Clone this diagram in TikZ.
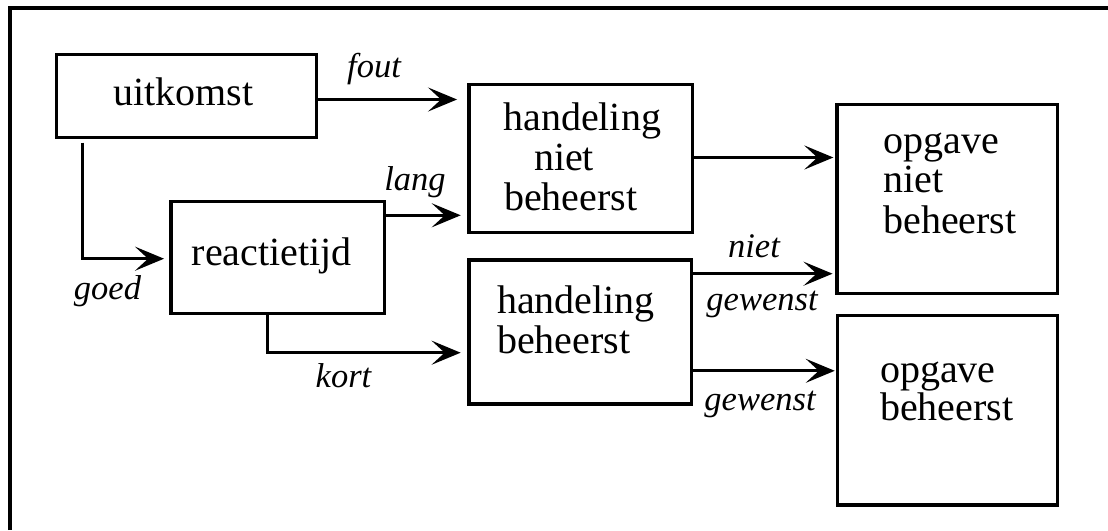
\documentclass[tikz,border=0pt]{standalone}
\usepackage{fontspec}
\setmainfont{Liberation Serif}
\usetikzlibrary{arrows.meta}
\begin{document}
\begin{tikzpicture}[x=1pt,y=-1pt,
  box/.style={draw, line width=3.2pt, rectangle, inner sep=0pt, outer sep=0pt},
  txt/.style={anchor=base west, inner sep=0pt, outer sep=0pt, font=\fontsize{40}{40}\selectfont},
  lab/.style={anchor=base, inner sep=0pt, outer sep=0pt, font=\fontsize{34.5}{34.5}\selectfont\itshape},
  conn/.style={line width=3.2pt, -{Stealth[length=29pt,width=24pt,inset=13pt]}},
  frame/.style={line width=3.2pt}
]
\useasboundingbox (0,0) rectangle (1108,530);
% frame (top and left edges)
\draw[frame] (10,530) -- (10,8) -- (1108,8);

% boxes
\node[box, minimum width=260pt, minimum height=83.4pt] (uit) at (186.5,96) {};
\node[box, minimum width=223.3pt, minimum height=148pt] (hnb) at (580.7,158.3) {};
\node[box, minimum width=213.3pt, minimum height=111.6pt] (rt) at (277.7,257.5) {};
\node[box, minimum width=220.3pt, minimum height=189pt] (onb) at (947.2,198.8) {};
\node[box, minimum width=222.7pt, minimum height=144pt] (hb) at (580.3,332) {};
\node[box, minimum width=219.5pt, minimum height=189.3pt] (ob) at (947.5,410.3) {};

% box texts
\node[txt] (uit1) at (113.3,105) {uitkomst};
\node[txt] (rt1) at (191.7,265) {reactietijd};
\node[txt] (hnb1) at (503.3,130) {handeling};
\node[txt] (hnb2) at (534,170) {niet};
\node[txt] (hnb3) at (504,210) {beheerst};
\node[txt] (onb1) at (883.3,153) {opgave};
\node[txt] (onb2) at (883.3,192) {niet};
\node[txt] (onb3) at (883.3,233) {beheerst};
\node[txt] (hb1) at (497,313) {handeling};
\node[txt] (hb2) at (497,353) {beheerst};
\node[txt] (ob1) at (880,382) {opgave};
\node[txt] (ob2) at (880,420) {beheerst};

% connector levels
\coordinate (fy) at (0,99.5);
\coordinate (gx) at (82.7,0);
\coordinate (gy) at (0,258.7);
\coordinate (ly) at (0,215.3);
\coordinate (kx) at (267.7,0);
\coordinate (ky) at (0,352.7);
\coordinate (oy) at (0,157.5);
\coordinate (ny) at (0,273.7);
\coordinate (wy) at (0,370.8);

% connectors
\draw[conn, shorten >=12pt] (uit.east |- fy) -- (hnb.west |- fy);
\draw[conn, shorten >=7pt, shorten <=5pt] (uit.south -| gx) |- (rt.west |- gy);
\draw[conn, shorten >=8.3pt] (rt.east |- ly) -- (hnb.west |- ly);
\draw[conn, shorten >=8.3pt] (rt.south -| kx) |- (hb.west |- ky);
\draw[conn, shorten >=3.7pt] (hnb.east |- oy) -- (onb.west |- oy);
\draw[conn, shorten >=4.5pt] (hb.east |- ny) -- (onb.west |- ny);
\draw[conn, shorten >=3pt] (hb.east |- wy) -- (ob.west |- wy);

% labels
\node[lab] (lfout) at (374,77) {fout};
\node[lab] (llang) at (415,190) {lang};
\node[lab] (lgoed) at (107.5,299) {goed};
\node[lab] (lkort) at (343.5,387) {kort};
\node[lab] (lniet) at (754,257) {niet};
\node[lab] (lgew1) at (762,310) {gewenst};
\node[lab] (lgew2) at (760,410) {gewenst};
\end{tikzpicture}
\end{document}
